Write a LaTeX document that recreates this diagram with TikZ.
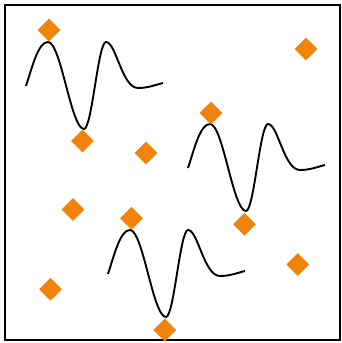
\documentclass[tikz,border=0pt]{standalone}
\usetikzlibrary{shapes.geometric}

\definecolor{markorange}{RGB}{241,130,12}

\tikzset{
    marker/.style={diamond, fill=markorange, inner sep=0pt, minimum size=23pt},
    wavelet/.pic={
        \draw [line width=1.9pt]
            (0,0)
            .. controls +(6,18) and +(-10,0) .. (22,44)
            .. controls +(13,0) and +(-13,0) .. (58,-43)
            .. controls +(8,0) and +(-8,0) .. (80,44)
            .. controls +(10,0) and +(-16,0) .. (112,-2)
            .. controls +(10,0) and +(-8,-2) .. (137,3)
            ;
    },
}

\begin{document}
\begin{tikzpicture}[x=1pt,y=1pt]
    \useasboundingbox (0,0) rectangle (342,343);

    \draw [line width=2pt]
        (5,3) rectangle (340,338)
        ;

    % wavelets
    \pic at (26,257) {wavelet};
    \pic at (188,175) {wavelet};
    \pic at (108,69) {wavelet};

    % markers
    \node [marker] (d1) at (49,313) {};
    \node [marker] (d2) at (82.5,202) {};
    \node [marker] (d3) at (146,190) {};
    \node [marker] (d4) at (306,294) {};
    \node [marker] (d5) at (211,230) {};
    \node [marker] (d6) at (73,133.5) {};
    \node [marker] (d7) at (131.5,124.7) {};
    \node [marker] (d8) at (244.5,118.8) {};
    \node [marker] (d9) at (297.7,78.5) {};
    \node [marker] (d10) at (50.5,53.7) {};
    \node [marker] (d11) at (164.7,13) {};
\end{tikzpicture}
\end{document}
